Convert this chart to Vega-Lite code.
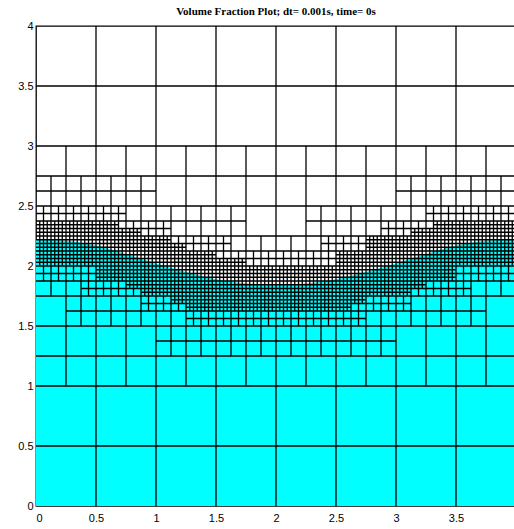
{
"$schema": "https://vega.github.io/schema/vega-lite/v6.json",
"width": 480, "height": 480,
"autosize": {"type": "none"},
"padding": {"left": 36, "top": 26, "right": 0, "bottom": 23},
"background": "white",
"title": {"text": "Volume Fraction Plot; dt= 0.001s, time= 0s", "font": "Liberation Serif", "fontSize": 11, "fontWeight": "bold", "color": "black", "anchor": "middle", "offset": 3},
"config": {"view": {"stroke": "black", "strokeWidth": 1.3}},
"datasets": {
"f": [
{"x":0,"y":2.22},{"x":0.25,"y":2.21},{"x":0.5,"y":2.17},{"x":0.75,"y":2.1},{"x":1,"y":2.02},{"x":1.25,"y":1.95},{"x":1.5,"y":1.89},{"x":1.75,"y":1.855},{"x":2,"y":1.845},{"x":2.25,"y":1.855},{"x":2.5,"y":1.89},{"x":2.75,"y":1.95},{"x":3,"y":2.02},{"x":3.25,"y":2.1},{"x":3.5,"y":2.17},{"x":3.75,"y":2.21},{"x":4,"y":2.22}
],
"v": [
{"x":0.5,"a":0,"b":4},{"x":1,"a":0,"b":4},{"x":1.5,"a":0,"b":4},{"x":2,"a":0,"b":4},{"x":2.5,"a":0,"b":4},{"x":3,"a":0,"b":4},{"x":3.5,"a":0,"b":4},
{"x":0.25,"a":1,"b":3},{"x":0.75,"a":1,"b":3},{"x":1.25,"a":1,"b":3},{"x":1.75,"a":1,"b":3},{"x":2.25,"a":1,"b":3},{"x":2.75,"a":1,"b":3},{"x":3.25,"a":1,"b":3},{"x":3.75,"a":1,"b":3},
{"x":0.125,"a":1.75,"b":2.75},{"x":0.375,"a":1.5,"b":2.75},{"x":0.625,"a":1.5,"b":2.75},{"x":0.875,"a":1.5,"b":2.75},
{"x":1.125,"a":1.25,"b":2.5},{"x":1.375,"a":1.25,"b":2.5},{"x":1.625,"a":1.25,"b":2.5},{"x":1.875,"a":1.25,"b":2.25},
{"x":2.125,"a":1.25,"b":2.25},{"x":2.375,"a":1.25,"b":2.5},{"x":2.625,"a":1.25,"b":2.5},{"x":2.875,"a":1.25,"b":2.5},
{"x":3.125,"a":1.5,"b":2.75},{"x":3.375,"a":1.5,"b":2.75},{"x":3.625,"a":1.5,"b":2.75},{"x":3.875,"a":1.75,"b":2.75},
{"x":0.0625,"a":1.875,"b":2.5},{"x":0.1875,"a":1.875,"b":2.5},{"x":0.3125,"a":1.875,"b":2.5},{"x":0.4375,"a":1.75,"b":2.5},
{"x":0.5625,"a":1.75,"b":2.5},{"x":0.6875,"a":1.75,"b":2.5},{"x":0.8125,"a":1.75,"b":2.375},{"x":0.9375,"a":1.625,"b":2.375},
{"x":1.0625,"a":1.625,"b":2.375},{"x":1.1875,"a":1.625,"b":2.25},{"x":1.3125,"a":1.5,"b":2.25},{"x":1.4375,"a":1.5,"b":2.25},
{"x":1.5625,"a":1.5,"b":2.25},{"x":1.6875,"a":1.5,"b":2.125},{"x":1.8125,"a":1.5,"b":2.125},{"x":1.9375,"a":1.5,"b":2.125},
{"x":2.0625,"a":1.5,"b":2.125},{"x":2.1875,"a":1.5,"b":2.125},{"x":2.3125,"a":1.5,"b":2.125},{"x":2.4375,"a":1.5,"b":2.25},
{"x":2.5625,"a":1.5,"b":2.25},{"x":2.6875,"a":1.5,"b":2.25},{"x":2.8125,"a":1.625,"b":2.25},{"x":2.9375,"a":1.625,"b":2.375},
{"x":3.0625,"a":1.625,"b":2.375},{"x":3.1875,"a":1.75,"b":2.375},{"x":3.3125,"a":1.75,"b":2.5},{"x":3.4375,"a":1.75,"b":2.5},
{"x":3.5625,"a":1.75,"b":2.5},{"x":3.6875,"a":1.875,"b":2.5},{"x":3.8125,"a":1.875,"b":2.5},{"x":3.9375,"a":1.875,"b":2.5},
{"x":0.03125,"a":2,"b":2.375},{"x":0.09375,"a":2,"b":2.375},{"x":0.15625,"a":2,"b":2.375},{"x":0.21875,"a":2,"b":2.375},
{"x":0.28125,"a":2,"b":2.375},{"x":0.34375,"a":2,"b":2.375},{"x":0.40625,"a":2,"b":2.375},{"x":0.46875,"a":2,"b":2.375},
{"x":0.53125,"a":1.875,"b":2.375},{"x":0.59375,"a":1.875,"b":2.375},{"x":0.65625,"a":1.875,"b":2.375},{"x":0.71875,"a":1.875,"b":2.3125},
{"x":0.78125,"a":1.8125,"b":2.3125},{"x":0.84375,"a":1.8125,"b":2.3125},{"x":0.90625,"a":1.75,"b":2.25},{"x":0.96875,"a":1.75,"b":2.25},
{"x":1.03125,"a":1.75,"b":2.25},{"x":1.09375,"a":1.75,"b":2.25},{"x":1.15625,"a":1.6875,"b":2.1875},{"x":1.21875,"a":1.6875,"b":2.1875},
{"x":1.28125,"a":1.625,"b":2.125},{"x":1.34375,"a":1.625,"b":2.125},{"x":1.40625,"a":1.625,"b":2.125},{"x":1.46875,"a":1.625,"b":2.125},
{"x":1.53125,"a":1.625,"b":2.0625},{"x":1.59375,"a":1.625,"b":2.0625},{"x":1.65625,"a":1.625,"b":2.0625},{"x":1.71875,"a":1.625,"b":2.0625},
{"x":1.78125,"a":1.625,"b":2},{"x":1.84375,"a":1.625,"b":2},{"x":1.90625,"a":1.625,"b":2},{"x":1.96875,"a":1.625,"b":2},
{"x":2.03125,"a":1.625,"b":2},{"x":2.09375,"a":1.625,"b":2},{"x":2.15625,"a":1.625,"b":2},{"x":2.21875,"a":1.625,"b":2},
{"x":2.28125,"a":1.625,"b":2},{"x":2.34375,"a":1.625,"b":2},{"x":2.40625,"a":1.625,"b":2},{"x":2.46875,"a":1.625,"b":2},
{"x":2.53125,"a":1.625,"b":2.125},{"x":2.59375,"a":1.625,"b":2.125},{"x":2.65625,"a":1.6875,"b":2.125},{"x":2.71875,"a":1.6875,"b":2.125},
{"x":2.78125,"a":1.75,"b":2.25},{"x":2.84375,"a":1.75,"b":2.25},{"x":2.90625,"a":1.75,"b":2.25},{"x":2.96875,"a":1.75,"b":2.25},
{"x":3.03125,"a":1.75,"b":2.25},{"x":3.09375,"a":1.75,"b":2.25},{"x":3.15625,"a":1.8125,"b":2.3125},{"x":3.21875,"a":1.8125,"b":2.3125},
{"x":3.28125,"a":1.875,"b":2.3125},{"x":3.34375,"a":1.875,"b":2.375},{"x":3.40625,"a":1.875,"b":2.375},{"x":3.46875,"a":1.875,"b":2.375},
{"x":3.53125,"a":2,"b":2.375},{"x":3.59375,"a":2,"b":2.375},{"x":3.65625,"a":2,"b":2.375},{"x":3.71875,"a":2,"b":2.375},
{"x":3.78125,"a":2,"b":2.375},{"x":3.84375,"a":2,"b":2.375},{"x":3.90625,"a":2,"b":2.375},{"x":3.96875,"a":2,"b":2.375}
],
"h": [
{"y":0.5,"a":0,"b":4},{"y":1,"a":0,"b":4},{"y":1.5,"a":0,"b":4},{"y":2,"a":0,"b":4},{"y":2.5,"a":0,"b":4},{"y":3,"a":0,"b":4},{"y":3.5,"a":0,"b":4},
{"y":1.25,"a":0,"b":4},{"y":1.75,"a":0,"b":4},{"y":2.25,"a":0,"b":4},{"y":2.75,"a":0,"b":4},
{"y":1.375,"a":1,"b":3},{"y":1.625,"a":0.25,"b":3.75},{"y":1.875,"a":0,"b":4},{"y":2.125,"a":0,"b":4},
{"y":2.375,"a":0,"b":1.75},{"y":2.375,"a":2.25,"b":4},{"y":2.625,"a":0,"b":1},{"y":2.625,"a":3,"b":4},
{"y":1.5625,"a":1.25,"b":2.75},{"y":1.6875,"a":0.875,"b":3.125},{"y":1.8125,"a":0.375,"b":3.625},{"y":1.9375,"a":0,"b":4},{"y":2.0625,"a":0,"b":4},
{"y":2.1875,"a":0,"b":1.625},{"y":2.1875,"a":2.375,"b":4},{"y":2.3125,"a":0,"b":1.125},{"y":2.3125,"a":2.875,"b":4},{"y":2.4375,"a":0,"b":0.75},{"y":2.4375,"a":3.25,"b":4},
{"y":1.65625,"a":1.25,"b":2.625},{"y":1.71875,"a":1.125,"b":2.75},{"y":1.78125,"a":0.875,"b":3.125},{"y":1.84375,"a":0.75,"b":3.25},
{"y":1.90625,"a":0.5,"b":3.5},{"y":1.96875,"a":0.5,"b":3.5},
{"y":2.03125,"a":0,"b":1.75},{"y":2.03125,"a":2.5,"b":4},{"y":2.09375,"a":0,"b":1.5},{"y":2.09375,"a":2.5,"b":4},
{"y":2.15625,"a":0,"b":1.25},{"y":2.15625,"a":2.75,"b":4},{"y":2.21875,"a":0,"b":1.125},{"y":2.21875,"a":2.75,"b":4},
{"y":2.28125,"a":0,"b":0.875},{"y":2.28125,"a":3.125,"b":4},{"y":2.34375,"a":0,"b":0.6875},{"y":2.34375,"a":3.3125,"b":4}
]
},
"layer": [
{"data": {"name": "f"},
 "mark": {"type": "area", "color": "#00ffff", "interpolate": "monotone", "opacity": 1},
 "encoding": {
  "x": {"field": "x", "type": "quantitative", "scale": {"domain": [0, 4], "nice": false, "zero": false},
        "axis": {"title": null, "values": [0,0.5,1,1.5,2,2.5,3,3.5], "format": "~g", "ticks": false, "domain": false, "grid": false, "labelPadding": 6, "labelFont": "Liberation Sans", "labelFontSize": 11, "labelColor": "black", "labelOverlap": false}},
  "y": {"field": "y", "type": "quantitative", "scale": {"domain": [0, 4], "nice": false, "zero": false},
        "axis": {"title": null, "values": [0,0.5,1,1.5,2,2.5,3,3.5,4], "format": "~g", "ticks": false, "domain": false, "grid": false, "labelPadding": 3, "labelFont": "Liberation Sans", "labelFontSize": 11, "labelColor": "black", "labelOverlap": false}}
 }},
{"data": {"name": "v"},
 "mark": {"type": "rule", "color": "black", "strokeWidth": 1.3},
 "encoding": {
  "x": {"field": "x", "type": "quantitative", "title": null},
  "y": {"field": "a", "type": "quantitative", "title": null},
  "y2": {"field": "b"}
 }},
{"data": {"name": "h"},
 "mark": {"type": "rule", "color": "black", "strokeWidth": 1.3},
 "encoding": {
  "y": {"field": "y", "type": "quantitative", "title": null},
  "x": {"field": "a", "type": "quantitative", "title": null},
  "x2": {"field": "b"}
 }}
]
}
